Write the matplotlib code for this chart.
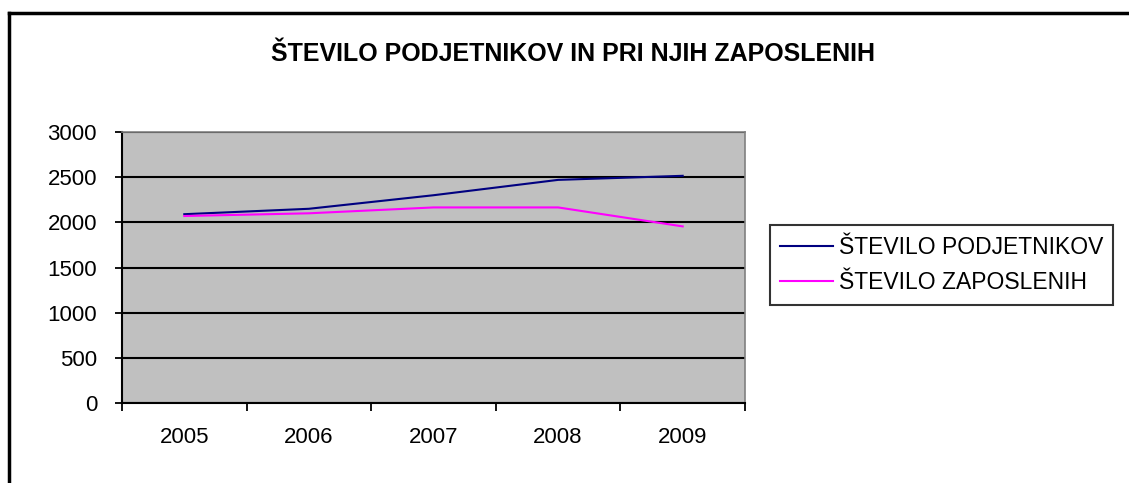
import numpy as np
import matplotlib
matplotlib.use("Agg")
import matplotlib.pyplot as plt
from matplotlib.lines import Line2D

# data
years = ["2005", "2006", "2007", "2008", "2009"]
podjetniki = [2090, 2150, 2300, 2470, 2515]
zaposleni = [2070, 2100, 2165, 2165, 1955]
yticks = [0, 500, 1000, 1500, 2000, 2500, 3000]

plt.rcParams['font.family'] = ['Liberation Sans', 'DejaVu Sans']

fig = plt.figure(figsize=(11.29, 4.83), dpi=100)
ax = fig.add_axes([122 / 1129, 1 - 403 / 483, (745 - 122) / 1129, (403 - 132) / 483])
ax.set_facecolor('#c0c0c0')

x = np.arange(len(years)) + 0.5
ax.plot(x, podjetniki, color='#000080', lw=1.5, label='ŠTEVILO PODJETNIKOV')
ax.plot(x, zaposleni, color='#ff00ff', lw=1.5, label='ŠTEVILO ZAPOSLENIH')

ax.set_xlim(0, len(years))
ax.set_ylim(0, 3000)
ax.set_yticks(yticks)
ax.set_yticklabels([str(v) for v in yticks], fontsize=16)
ax.set_xticks(x)
ax.set_xticklabels(years, fontsize=16)
ax.set_xticks(np.arange(len(years) + 1), minor=True)
ax.tick_params(axis='x', which='major', length=0, pad=17)
ax.tick_params(axis='x', which='minor', length=6, width=1.3, direction='out')
ax.tick_params(axis='y', length=5, width=1.3, direction='out', pad=13)
ax.yaxis.grid(True, color='black', lw=1.5)
ax.set_axisbelow(True)

for s in ['left', 'bottom']:
    ax.spines[s].set_color('black')
    ax.spines[s].set_linewidth(1.5)
for s in ['top', 'right']:
    ax.spines[s].set_color('#808080')
    ax.spines[s].set_linewidth(1.2)

fig.text(573 / 1129, 1 - 54 / 483, 'ŠTEVILO PODJETNIKOV IN PRI NJIH ZAPOSLENIH',
         ha='center', va='center', fontsize=18, fontweight='bold')

leg = fig.legend(loc='center left', bbox_to_anchor=(770 / 1129, 1 - 265 / 483),
                 fontsize=16.5, frameon=True, fancybox=False, edgecolor='black',
                 handlelength=2.3, handletextpad=0.25, borderpad=0.45,
                 labelspacing=0.55, borderaxespad=0)
leg.get_frame().set_linewidth(1.5)

# outer chart border (cut off at right and bottom)
fig.add_artist(Line2D([9 / 1129, 9 / 1129], [0, 1 - 13 / 483], color='black', lw=2.5,
                      transform=fig.transFigure))
fig.add_artist(Line2D([9 / 1129, 1], [1 - 13 / 483, 1 - 13 / 483], color='black', lw=2.5,
                      transform=fig.transFigure))

fig.savefig('out.png', dpi=100)
